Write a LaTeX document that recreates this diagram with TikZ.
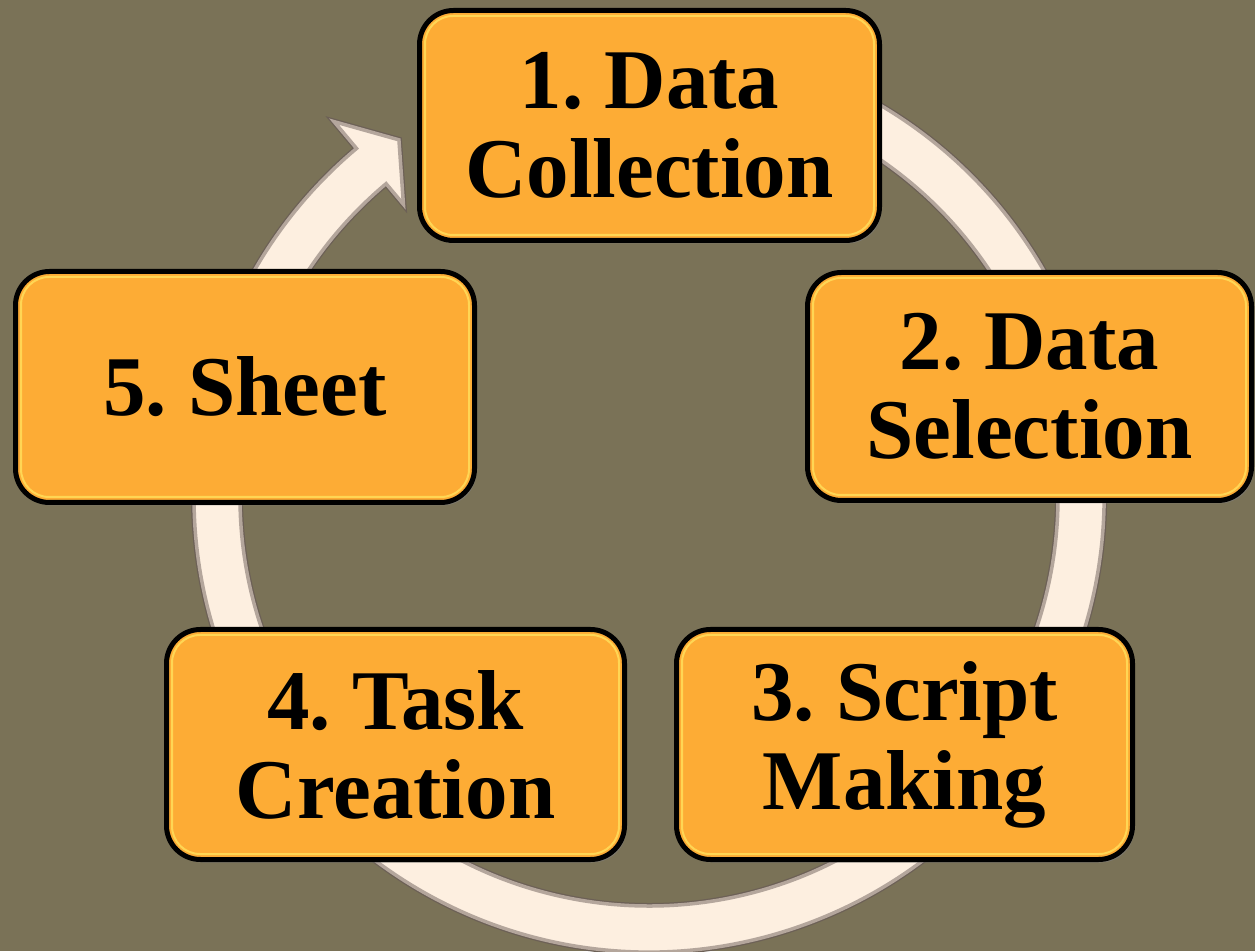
\documentclass[tikz,border=0pt]{standalone}
\usepackage{fontspec}
\setmainfont{Liberation Serif}
\usetikzlibrary{shadows}
\definecolor{bgc}{RGB}{122,114,87}
\definecolor{boxorange}{RGB}{253,172,53}
\definecolor{creamc}{RGB}{253,239,224}
\definecolor{ringedge}{RGB}{180,166,156}
\definecolor{ringdark}{RGB}{108,96,86}
\definecolor{bevelc}{RGB}{255,214,84}
\frenchspacing
\begin{document}
\begin{tikzpicture}[x=1pt,y=1pt,
  stage/.style={draw=black, line width=5pt, fill=boxorange, rounded corners=34pt,
    align=center, inner sep=0pt, text=black,
    font=\fontsize{85}{89}\selectfont\bfseries\frenchspacing,
    drop shadow={shadow xshift=2pt,shadow yshift=-3pt,opacity=0.55}},
  bevel/.style={draw=bevelc, line width=2pt, rounded corners=28pt},
  ring/.style={preaction={draw=ringdark,line width=6pt}, fill=creamc, draw=ringedge, line width=3.5pt, line join=miter}
]
\useasboundingbox[fill=bgc] (0,0) rectangle (1255,951);
\coordinate (C) at (649,454);
% circular arrow ring
\path[ring] ([shift={(C)}]110:455pt) arc[start angle=110,end angle=-230,radius=455pt]
  -- ([shift={(C)}]-230:490pt) -- ([shift={(C)}]-235:436pt) -- ([shift={(C)}]-230:382pt)
  -- ([shift={(C)}]-230:409pt) arc[start angle=-230,end angle=110,radius=409pt] -- cycle;
% stages
\node[stage, minimum width=460pt, minimum height=230pt] (s1) at (649.5,825.5) {1. Data\\Collection};
\node[stage, minimum width=444pt, minimum height=228pt] (s2) at (1029.5,564.5) {2. Data\\Selection};
\node[stage, minimum width=456pt, minimum height=230pt] (s3) at (904.5,206.5) {3. Script\\Making};
\node[stage, minimum width=458pt, minimum height=230pt] (s4) at (395.5,206.5) {4. Task\\Creation};
\node[stage, minimum width=459pt, minimum height=231pt] (s5) at (245,564) {5. Sheet};
\foreach \n in {s1,s2,s3,s4,s5}{
  \draw[bevel] ([shift={(8pt,8pt)}]\n.south west) rectangle ([shift={(-8pt,-8pt)}]\n.north east);
}
\end{tikzpicture}
\end{document}
